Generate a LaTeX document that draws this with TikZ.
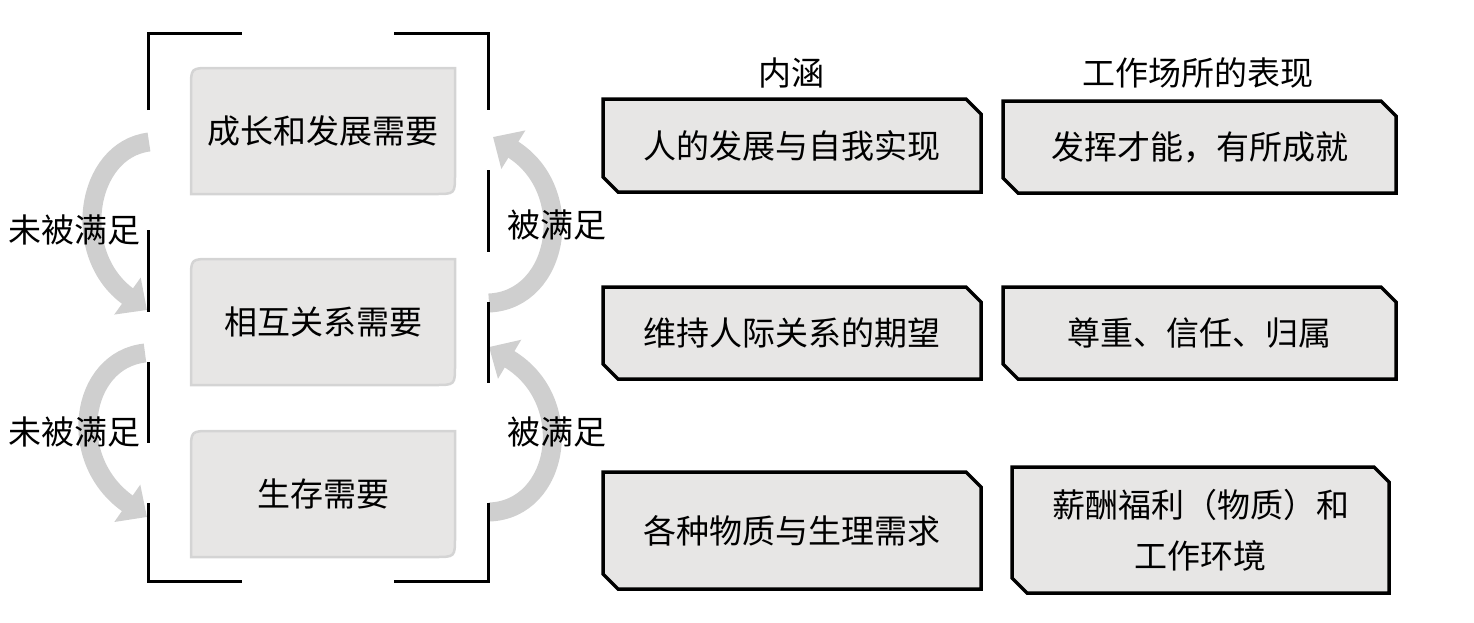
\documentclass[tikz,border=0pt]{standalone}
\usepackage{fontspec}
\setmainfont{Noto Sans CJK SC}
\usetikzlibrary{arrows.meta}
\definecolor{boxfill}{RGB}{231,230,229}
\definecolor{boxline}{RGB}{212,212,212}
\definecolor{arrowgray}{RGB}{207,207,207}
\tikzset{
  txt/.style={inner sep=0pt, font=\fontsize{33}{51}\selectfont, align=center},
  needbox/.style={fill=boxfill, draw=boxline, line width=2.5pt},
  levelbox/.style={fill=boxfill, draw=black, line width=3.5pt, line join=miter},
  curvearrow/.style={draw=arrowgray, line width=19pt, -{Triangle[length=24pt, width=44pt]}},
  bracket/.style={line width=3pt}
}
\begin{document}
\begin{tikzpicture}[x=1pt, y=-1pt]
    \useasboundingbox (0,0) rectangle (1474,622);

    % gray curved arrows
    \coordinate (a1) at (149,142);
    \coordinate (b1) at (147,310);
    \coordinate (a2) at (145,353);
    \coordinate (b2) at (147,517);
    \coordinate (a3) at (489,303);
    \coordinate (b3) at (493,137);
    \coordinate (a4) at (489,512);
    \coordinate (b4) at (489,347);
    \draw[curvearrow] (a1) .. controls (85,150) and (70,255) .. (b1);
    \draw[curvearrow] (a2) .. controls (80,360) and (65,460) .. (b2);
    \draw[curvearrow] (a3) .. controls (560,300) and (578,190) .. (b3);
    \draw[curvearrow] (a4) .. controls (560,510) and (578,400) .. (b4);

    % need boxes
    \foreach \yy/\txt [count=\i] in {68/成长和发展需要, 259/相互关系需要, 431/生存需要} {
        \draw[needbox] (191,\yy+126) -- (191,\yy+20) .. controls (191,\yy) .. (211,\yy)
            -- (455,\yy) -- (455,\yy+106) .. controls (455,\yy+126) .. (435,\yy+126) -- cycle;
        \node[txt] (need\i) at (323,\yy+63) {\txt};
      }

    % bracket
    \draw[bracket] (148,110) -- (148,33) -- (242,33);
    \draw[bracket] (394,33) -- (488,33) -- (488,110);
    \draw[bracket] (148,503) -- (148,581) -- (242,581);
    \draw[bracket] (394,581) -- (488,581) -- (488,503);
    \draw[bracket] (148,230) -- (148,312);
    \draw[bracket] (148,362) -- (148,443);
    \draw[bracket] (488,170) -- (488,252);
    \draw[bracket] (488,302) -- (488,383);

    \node[txt] (lab1) at (75,230) {未被满足};
    \node[txt] (lab2) at (75,432) {未被满足};
    \node[txt] (lab3) at (557,225) {被满足};
    \node[txt] (lab4) at (557,432) {被满足};

    % table
    \node[txt] (head1) at (791,73) {内涵};
    \node[txt] (head2) at (1198,73) {工作场所的表现};

    \foreach \xa/\ya/\xb/\yb/\txt [count=\i] in {
        603/99/981/192/人的发展与自我实现,
        1003/101/1396/193/发挥才能，有所成就,
        603/287/981/379/维持人际关系的期望,
        1003/287/1396/379/尊重、信任、归属,
        603/472/981/589/各种物质与生理需求,
        1012/467/1389/593/{薪酬福利（物质）和\\工作环境}} {
        \draw[levelbox] (\xa,\ya) -- (\xb-15,\ya) -- (\xb,\ya+15) -- (\xb,\yb)
            -- (\xa+15,\yb) -- (\xa,\yb-15) -- cycle;
        \node[txt] (cell\i) at ({(\xa+\xb)/2},{(\ya+\yb)/2}) {\txt};
      }
\end{tikzpicture}
\end{document}
